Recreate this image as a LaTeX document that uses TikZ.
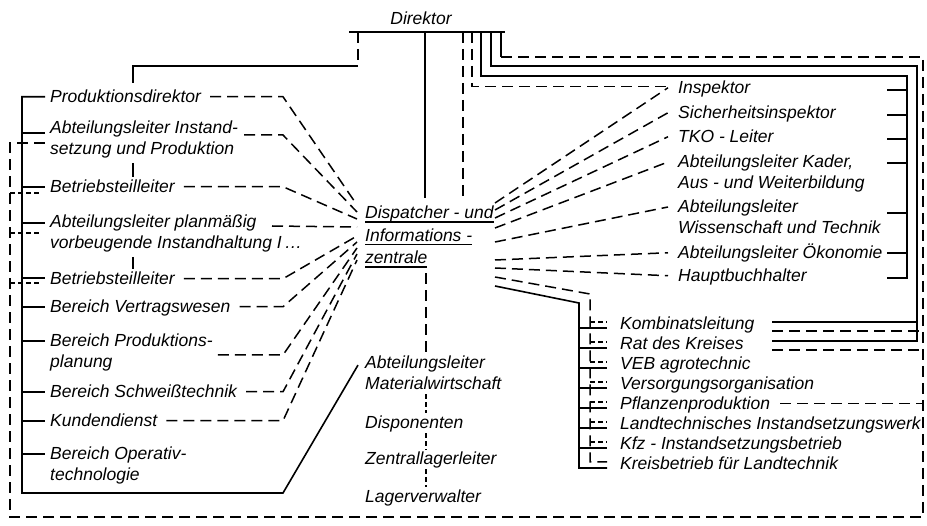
\documentclass[tikz,border=0pt]{standalone}
\usepackage{fontspec}
\setmainfont{Liberation Sans}
\usetikzlibrary{calc}
\newcommand\ulin[1]{\setbox0\hbox{#1}\rlap{\rule[-4pt]{\wd0}{1.6pt}}\box0}
\tikzset{ltg/.style={line width=1.6pt},
  inf/.style={line width=1.5pt, dash pattern=on 11pt off 6pt},
  kinf/.style={line width=1.4pt, dash pattern=on 5pt off 3pt},
  lbl/.style={anchor=base west, inner sep=0pt, text height=12.5pt, text depth=0pt,
    font=\itshape\fontsize{17.5}{21}\selectfont},
  lblm/.style={anchor=base west, inner sep=0pt, align=left,
    font=\itshape\fontsize{17.5}{21}\selectfont}}

\begin{document}
\begin{tikzpicture}[x=1pt, y=-1pt]
  \useasboundingbox (0,0) rectangle (927,526);
  \node[lbl, anchor=base] (dir) at (421,25) {Direktor};
  \draw[ltg, line width=2.2pt] (349,32) -- (505,32);
  \foreach \n/\x in {1/358,2/425,3/463,4/472,5/481,6/491,7/501}
    \coordinate (d\n) at (\x,32);

  % linke Spalte (mehrzeilige Knoten: base = letzte Zeile)
  \node[lbl] (pd) at (50,103) {Produktionsdirektor};
  \node[lblm] (ail) at (50,155) {Abteilungsleiter Instand-\\setzung und Produktion};
  \node[lbl] (bt1) at (50,193) {Betriebsteilleiter};
  \node[lblm] (apl) at (50,249) {Abteilungsleiter planmäßig\\vorbeugende Instandhaltung I\,\dots};
  \node[lbl] (bt2) at (50,285) {Betriebsteilleiter};
  \node[lbl] (bvw) at (50,313) {Bereich Vertragswesen};
  \node[lblm] (bpp) at (50,368) {Bereich Produktions-\\planung};
  \node[lbl] (bst) at (50,398) {Bereich Schweißtechnik};
  \node[lbl] (kd) at (50,427) {Kundendienst};
  \node[lblm] (bot) at (50,481) {Bereich Operativ-\\technologie};

  % Mitte
  \node[lblm, font=\itshape\fontsize{17.5}{22.5}\selectfont] (diz) at (365,264)
    {\ulin{Dispatcher - und}\\\ulin{Informations -}\\\ulin{zentrale}};
  \node[lblm] (amw) at (365,390) {Abteilungsleiter\\Materialwirtschaft};
  \node[lbl] (disp) at (365,429) {Disponenten};
  \node[lbl] (zll) at (365,465) {Zentrallagerleiter};
  \node[lbl] (lv) at (365,503) {Lagerverwalter};

  % rechte Spalte
  \node[lbl] (insp) at (678,94) {Inspektor};
  \node[lbl] (sinsp) at (678,119) {Sicherheitsinspektor};
  \node[lbl] (tko) at (678,143) {TKO - Leiter};
  \node[lblm] (akad) at (678,189) {Abteilungsleiter Kader,\\Aus - und Weiterbildung};
  \node[lblm] (awt) at (678,234) {Abteilungsleiter\\Wissenschaft und Technik};
  \node[lbl] (aoek) at (678,259) {Abteilungsleiter Ökonomie};
  \node[lbl] (hbh) at (678,282) {Hauptbuchhalter};

  % Kombinat und Kreis
  \foreach \n/\t [count=\i from 0] in {kl/Kombinatsleitung, rk/Rat des Kreises,
      veb/VEB agrotechnic, vo/Versorgungsorganisation, pp/Pflanzenproduktion,
      liw/Landtechnisches Instandsetzungswerk, kfz/Kfz - Instandsetzungsbetrieb,
      kbl/Kreisbetrieb für Landtechnik}
    \node[lbl] (\n) at (620,330+20*\i) {\t};

  % Linien vom Direktor
  \draw[inf] (d1) -- ++(0,34) coordinate (k1);
  \draw[ltg] (k1) -| ([xshift=83pt,yshift=7pt]pd.north west);
  \draw[ltg] (d2) -- ++(0,166);
  \draw[inf] (d3) -- ++(0,166);
  \draw[inf] (d4) |- ([xshift=-10pt,yshift=1pt]insp.west);
  \draw[ltg] (d5) |- (907,76) -- (907,278) -- (887,278);
  \draw[ltg] (d6) |- (917,66) |- (772,341);
  \draw[ltg] (d7) -- ++(0,25) coordinate (k7);
  \draw[inf] (k7) -| (923,517) -| ([xshift=-40pt,yshift=12pt]ail.base west)
    -- ([xshift=-5pt,yshift=12pt]ail.base west);

  % linke Spalte: Unterstellung
  \draw[ltg] ([xshift=83pt,yshift=-4pt]ail.south west) -- ([xshift=83pt,yshift=3pt]bt1.north west);
  \draw[ltg] ([xshift=83pt,yshift=-4pt]apl.south west) -- ([xshift=83pt,yshift=3pt]bt2.north west);
  \draw[ltg] ([xshift=-5pt]pd.west) -| (22,493) -- (283,493)
    -- ([xshift=-7pt,yshift=-9pt]amw.north west);
  \foreach \n/\s in {ail/22,bt1/6,apl/26,bt2/7,bvw/6,bpp/27,bst/6,kd/6,bot/27}
    \draw[ltg] ([xshift=-28pt,yshift=\s pt]\n.base west) -- ++(23,0);
  \foreach \n/\s in {bt1/0,apl/16,bt2/2}
    \draw[kinf] ([xshift=-40pt,yshift=\s pt]\n.base west) -- ++(30,0);

  % Faecher zur Dispatcherzentrale
  \foreach \i/\y in {1/205,2/212,3/219,4/227,5/236,6/242,7/248,8/254,9/260}
    \coordinate (dl\i) at (357,\y);
  \foreach \n/\i in {pd/1,bt1/3,bt2/5,bvw/6,bst/8,kd/9}
    \draw[inf] ([xshift=9pt]\n.east) -- (283,0 |- \n.east) -- (dl\i);
  \draw[inf] ([xshift=6pt,yshift=20pt]ail.base east) -- (283,135) -- (dl2);
  \draw[inf] ([xshift=222pt,yshift=23pt]apl.base west) -- (dl4);
  \draw[inf] ([xshift=5pt,yshift=13pt]bpp.base east) -- (283,355) -- (dl7);

  \foreach \i/\y in {1/203,2/210,3/218,4/228,5/242,6/260,7/268,8/277,9/286}
    \coordinate (dr\i) at (495,\y);
  \foreach \n/\i in {insp/1,sinsp/2,tko/3,aoek/6,hbh/7}
    \draw[inf] (dr\i) -- ([xshift=-10pt]\n.west);
  \foreach \n/\i in {akad/4,awt/5}
    \draw[inf] (dr\i) -- ([xshift=-10pt,yshift=27pt]\n.base west);
  \foreach \y in {90,115,139,163,213,253}
    \draw[ltg] (887,\y) -- (907,\y);

  % Kombinat und Kreis
  \draw[inf] (dr8) -- (590,294) |- ([xshift=-13pt,yshift=8pt]kbl.base west);
  \draw[ltg] (dr9) -- (579,303) |- ([xshift=-13pt,yshift=2pt]kbl.base west);
  \foreach \n in {kl,rk,veb,vo,pp,liw,kfz}{
    \draw[ltg] ([xshift=-41pt,yshift=2pt]\n.base west) -- ++(28,0);
    \draw[kinf] ([xshift=-30pt,yshift=8pt]\n.base west) -- ++(17,0);}
  \draw[ltg] (772,322) -- (917,322);
  \draw[inf] (772,331) -- (923,331);
  \draw[inf] (772,350) -- (923,350);
  \draw[inf] ([xshift=10pt]pp.east) -- (923,0 |- pp.east);

  % Materialwirtschaft
  \draw[inf] ([xshift=61pt,yshift=-5pt]diz.south west) -- ([xshift=61pt,yshift=2pt]amw.north west);
  \draw[kinf] ([xshift=61pt,yshift=-4pt]amw.south west) -- ([xshift=61pt,yshift=3pt]disp.north west);
  \draw[kinf] ([xshift=61pt,yshift=-4pt]disp.south west) -- ([xshift=61pt,yshift=3pt]zll.north west);
  \draw[kinf] ([xshift=61pt,yshift=-4pt]zll.south west) -- ([xshift=61pt,yshift=3pt]lv.north west);
\end{tikzpicture}
\end{document}
